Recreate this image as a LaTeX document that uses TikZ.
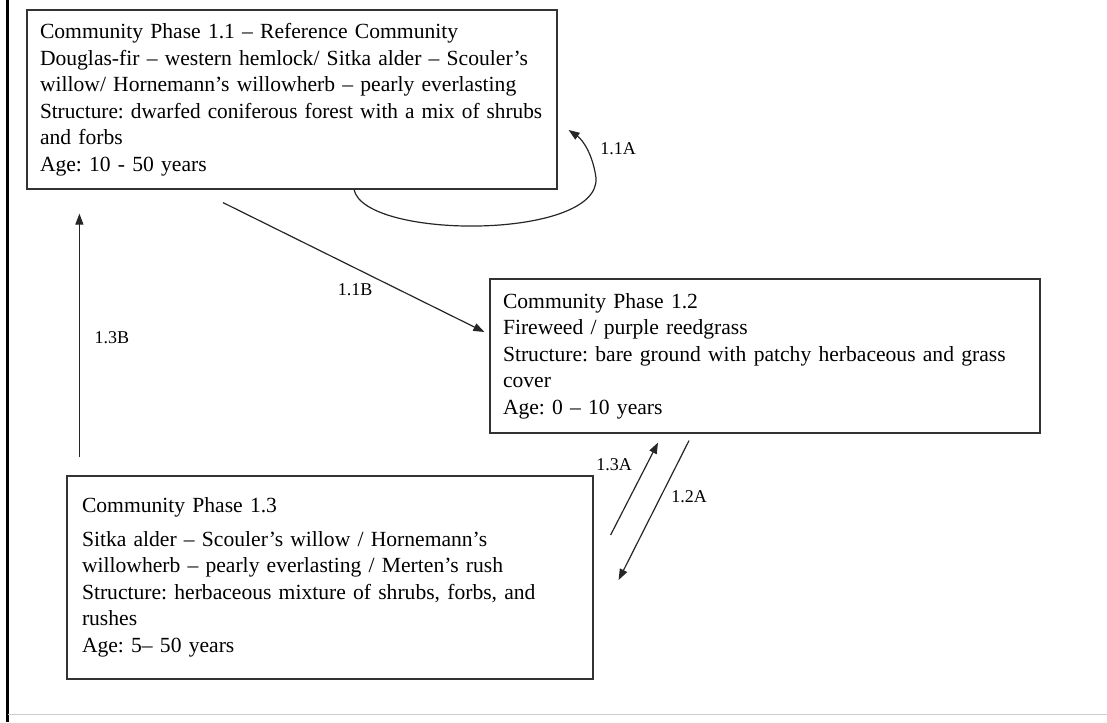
\documentclass[tikz,border=0pt]{standalone}
\usepackage{fontspec}
\usepackage{graphicx}
\setmainfont{Liberation Serif}
\usetikzlibrary{arrows.meta}
\frenchspacing
\begin{document}
\begin{tikzpicture}[x=1pt,y=-1pt,
  phase/.style={draw=black!80,line width=1.2pt,align=left,inner xsep=13pt,inner ysep=2pt,font=\fontsize{21.6}{26.5}\selectfont},
  arr/.style={draw=black!85,line width=1.2pt,-{Triangle[length=11pt,width=8pt]}},
  lbl/.style={font=\fontsize{18}{20}\selectfont,inner sep=0pt}]
\useasboundingbox (0,0) rectangle (1107,722);
\draw[line width=3pt] (7,0) -- (7,722);
\draw[black!20,line width=1pt] (8,714) -- (1107,714);

\node[phase,text width=504pt,minimum height=179pt] (p11) at (292,99.5)
 {Community Phase 1.1 -- Reference Community\\
  Douglas-fir -- western hemlock/ Sitka alder -- Scouler's\\
  willow/ Hornemann's willowherb -- pearly everlasting\\
  \scalebox{0.985}[1]{Structure: dwarfed coniferous forest with a mix of shrubs}\\
  and forbs\\
  Age: 10 - 50 years};
\node[phase,text width=524pt,minimum height=154pt] (p12) at (765,356)
 {Community Phase 1.2\\
  Fireweed / purple reedgrass\\
  Structure: bare ground with patchy herbaceous and grass\\
  cover\\
  Age: 0 -- 10 years};
\node[phase,text width=496pt,minimum height=203pt,inner xsep=15pt] (p13) at (330,577.5)
 {Community Phase 1.3\\[7pt]
  Sitka alder -- Scouler's willow / Hornemann's\\
  willowherb -- pearly everlasting / Merten's rush\\
  Structure: herbaceous mixture of shrubs, forbs, and\\
  rushes\\
  Age: 5-- 50 years};

\coordinate (loop) at (596,178);
\draw[arr] ([xshift=62pt]p11.south) .. controls (365,240) and (600,240) .. (loop)
  .. controls (593,155) and (583,140) .. ([xshift=11pt,yshift=-30.5pt]p11.east);
\draw[arr] ([xshift=-69pt,yshift=-13pt]p11.south) -- ([xshift=-5pt,yshift=24pt]p12.west);
\draw[arr] ([xshift=13pt,yshift=18pt]p13.north west) -- ([xshift=53pt,yshift=-24pt]p11.south west);
\draw[arr] ([xshift=17pt,yshift=42.5pt]p13.east) -- ([xshift=-107pt,yshift=-9pt]p12.south);
\draw[arr] ([xshift=-76pt,yshift=-7pt]p12.south) -- ([xshift=25pt,yshift=-2.5pt]p13.east);

\node[lbl] (l11a) at (618,149) {1.1A};
\node[lbl] (l11b) at (355,290) {1.1B};
\node[lbl] (l13b) at (112,338) {1.3B};
\node[lbl] (l13a) at (614,465) {1.3A};
\node[lbl] (l12a) at (689,497) {1.2A};
\end{tikzpicture}
\end{document}
